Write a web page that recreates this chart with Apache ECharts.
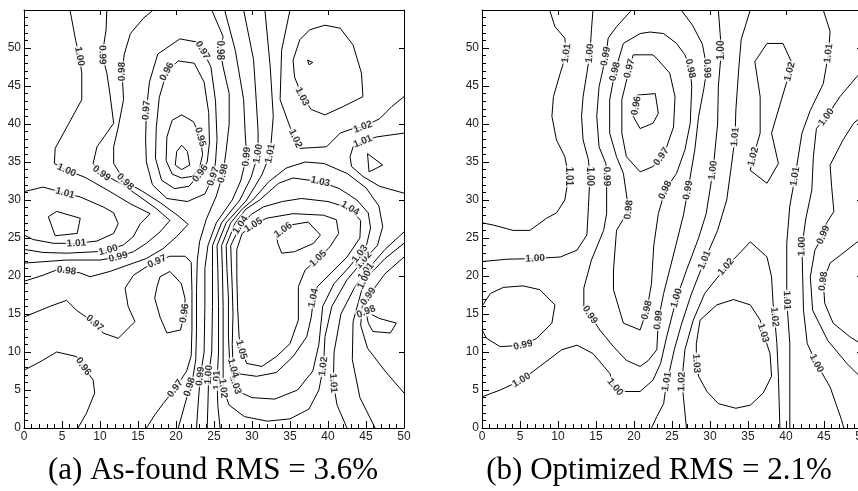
<!DOCTYPE html>
<html><head><meta charset="utf-8">
<script src="https://cdn.jsdelivr.net/npm/echarts/dist/echarts.min.js"></script>
<style>html,body{margin:0;padding:0;background:#fff}#c{width:858px;height:491px}</style>
</head><body><div id="c"></div>
<script>
// ---------- axis ticks ----------
const xTicks = [0,5,10,15,20,25,30,35,40,45,50];
const yTicks = [0,5,10,15,20,25,30,35,40,45,50];
const captions = ['(a) As-found RMS = 3.6%', '(b) Optimized RMS = 2.1%'];

// ---------- Panel A contour lines (x, y in data units) ----------
const a094 = [[20.75,37.2],[21.5,36.4],[21.8,34.6],[20.75,34.0],[19.9,34.6],[20.1,36.4]];
const a095 = [[20.75,41.2],[22.3,40.3],[23.2,38.3],[23.5,36],[23.1,34.2],[22.1,33.1],[20.75,32.9],[19.5,33.4],[18.7,35.2],[18.8,38.3],[19.5,40.5]];
const a096 = [[17.4,39.5],[17.8,43.5],[18.8,46.9],[20.3,48.3],[22.4,48],[23.7,45.5],[24.3,41.5],[24.4,37.5],[24.1,35],[23.2,33.5],[21.7,31.8],[19.8,31.5],[18.1,32.6],[17.3,35.5]];
const a097 = [[16.0,38],[16.1,41.8],[16.5,45.5],[17.6,49.2],[20.5,51.2],[22.7,50.8],[23.5,49.7],[24.6,47.5],[25.2,43],[25.4,38],[25.2,35],[24.9,33.1],[23.8,30.8],[21.5,29.8],[18.8,30.2],[16.9,32],[16.1,35]];
const a098L = [[17,55],[15.7,53.9],[14,51.9],[13.2,49.2],[12.9,46.9],[13.1,43.2],[12.4,39.6],[11.8,37],[11.8,34.8],[13.3,32.4],[15.5,31.2],[18,29.6],[20.3,27.9],[21.6,26.8],[20.1,25.2],[18.3,23.6],[16.1,22.3],[14.4,21.7],[11.3,20.6],[8.7,19.9],[7.4,20.4],[5.6,20.7],[4.3,20.8],[2.5,20.1],[0,19.3]];
const a098R = [[24.7,55],[26.2,51.5],[25.8,49.7],[26.2,47.5],[27,44],[27,40],[26.6,36.5],[26.2,33.5],[25.3,30.5],[24,27.5],[23.1,24.5],[22.8,22],[22.7,18],[22.7,13],[22.6,9],[22.2,6.5],[21.8,5.4],[21,2.5],[20.3,0]];
const a097LL = [[0,14.6],[3.4,16],[5.6,16.8],[6.9,15.5],[9.3,13.8],[10.4,12.5],[12.4,11.8],[14.6,14],[13.7,16],[13.3,18.4],[14.4,20.1],[16.1,21.2],[17.5,21.9],[19.2,22.6],[21.2,22.6],[22.0,21.8],[22.1,18],[22.1,13],[22.0,9.5],[21.4,7.5],[19.9,5.2],[18.3,3.2],[17.2,1.7],[16.1,0]];
const a096C = [[0,7.6],[2.1,8.7],[4.3,10.0],[6.9,9.4],[7.8,8.1],[9.1,6.3],[9.3,4.6],[8.2,1.9],[7.1,0]];
const a096M = [[17.5,18.6],[17.2,17.1],[17.9,14.6],[18.8,12.5],[20.6,12.9],[21.1,15.1],[21.2,17],[20.7,19],[19.2,20.6],[17.9,19.9]];
const a099L = [[10.9,55],[10.8,52.4],[10.3,49.1],[10.9,46.7],[11.3,44],[11.8,40.1],[9.6,37],[9.1,34.8],[10.2,33.5],[12.5,32.3],[15,30.6],[17.5,28.8],[19.2,27.3],[17.9,25.8],[16.1,24.3],[14.4,23.2],[12.4,22.5],[10,22.1],[5.6,22.1],[0,21.7]];
const a100L = [[6.05,55],[6.8,51],[7.3,48.9],[7.6,46.7],[7.6,43.2],[5.8,39.9],[4.1,36.8],[4.0,34.8],[5.6,33.9],[8.0,33.0],[11,31.3],[14,29.5],[16.6,28.2],[15.3,26.9],[14.4,25.2],[13.1,24.1],[11.1,23.4],[9.6,23.2],[5.6,23.0],[2.5,23.1],[0,23.5]];
const a101L = [[0,31.1],[2.5,31.7],[5.4,30.9],[7.4,30.4],[10.4,29.1],[11.8,28.3],[12.4,26.9],[11.8,25.6],[9.6,24.6],[6.9,24.3],[3.9,24.3],[1.2,24.8],[0,25.4]];
const a102P = [[3.2,27.8],[4.3,28.5],[7.4,27.6],[7.0,25.6],[4.1,25.3]];
const a099R = [[26.4,55],[27.8,49.7],[28.9,43.2],[29.1,38.8],[29.3,35.7],[28.5,32.5],[27.4,30],[25.3,27],[24.2,24],[23.8,21],[23.8,16],[23.7,10],[23.2,6.8],[22.9,3],[22.7,0]];
const a100R = [[28.9,55],[29.5,52],[30.2,48.5],[30.5,44],[30.8,39],[30.8,36.1],[29.9,33],[28.4,30],[26.0,27],[24.8,24],[24.8,21],[24.8,16],[24.7,10],[24.3,7],[24.2,3],[24.1,0]];
const a101T = [[31.7,55],[32.4,47.5],[32.8,41],[32.4,36.1],[31.3,33.3],[29.3,30],[26.6,27],[25.4,24],[25.5,21],[25.6,16],[25.6,10],[25.4,6.3],[25.5,3],[25.8,0]];
const a102U = [[35,55],[33.9,49.7],[33.7,43.2],[35,39.6],[35.7,38.1],[36.3,36.8],[38.1,36.9],[39.8,37.0],[41.6,38.8],[43.3,39.4],[44.6,39.6],[46.8,40.7],[48.4,42.3],[50,43.6]];
const a101R = [[50,38.8],[46.4,38.3],[44.6,37.7],[43.3,37.0],[42.9,35.7],[43.1,34.4],[44.6,33.1],[46.8,31.8],[50,30.9]];
const a100T = [[45.2,36.1],[47.2,34.6],[45.4,33.7]];
const a103I = [[35.4,48.4],[36.3,51.1],[37.6,52.4],[39.6,53],[41.6,52.6],[43.3,50.4],[44.4,46.7],[44.6,43.6],[42,42.3],[39.6,41.2],[37.8,41.9],[36.6,43.6],[35.6,46.2]];
const a104t = [[37.3,48.4],[38.0,48.1],[37.5,47.8]];
const a102M = [[26.1,21],[26.0,24],[27.2,27],[28.7,28.8],[30.1,30],[32.2,32.4],[34.5,34.2],[37,35],[39.5,34.8],[42.5,33.5],[45,31.6],[46.7,29.2],[47.2,26.5],[46.5,24],[44.7,22.1],[42.5,19.5],[40.5,16],[39.6,12],[39.4,8.1],[38.8,5],[37.5,2.5],[35,1.2],[32,0.9],[29,1.5],[27,3],[26.2,5.2],[26.2,10],[26.2,16]];
const a103M = [[26.7,21],[26.6,24],[27.8,27],[29.2,28.8],[31.0,30],[33.5,32.2],[35.4,32.9],[39,32.4],[41.5,31.5],[43.8,30],[45.3,28.3],[45.6,26.3],[45.1,24.2],[44.2,22.9],[42.8,21.2],[40.8,19],[39.3,16],[38.8,11],[38,7.5],[36,5],[33,3.8],[30,4],[28.2,4.8],[27.8,5.7],[27.1,8],[26.9,12],[26.9,17]];
const a104M = [[27.3,21],[27.2,24],[28.5,26.7],[29.9,28.1],[31.5,29.1],[34,29.8],[36.5,30.2],[40,29.8],[42.9,28.9],[44.3,27.3],[44.2,25],[42.5,22.5],[40.5,20.5],[38.6,18.6],[38.1,17.1],[37.8,14.6],[37.2,12],[35.4,9.4],[33.2,7.3],[30.6,6.8],[28.5,7.1],[27.5,7.9],[27.4,11],[27.5,15],[27.4,18.5]];
const a105M = [[28.0,20],[28.0,23.5],[28.7,25.6],[30.2,26.7],[31.9,27.6],[35.4,28.2],[39.4,28.0],[41.1,27.4],[41.4,25.6],[40.3,23.9],[38.7,22.3],[37,20.8],[36.1,18.6],[36.1,14.2],[35,11.1],[33.2,9.4],[31.3,8.1],[29.3,8.5],[28.6,10.3],[28.3,12],[28.1,16]];
const a106M = [[33.2,25.4],[34.1,26.05],[35,26.7],[37.4,27.1],[39,25.4],[38.1,24.3],[35.6,23.2],[33.9,23.0],[33.4,24.3]];
const a101B = [[42.5,0],[41.2,3],[40.7,5.9],[40.8,10],[41.7,15],[43.5,18.5],[45,20.6],[47.5,23.5],[50,25.8]];
const a100B = [[46.2,0],[44.2,4],[43.2,9],[43.3,14],[44.8,19.5],[47.5,22.3],[50,24.3]];
const a099B = [[50,4.6],[47.5,7.5],[45.2,10.5],[44.3,13.5],[44.5,16],[45.3,17.3],[47.5,20.3],[50,22.5]];
const a098P = [[45.0,15.3],[46.8,14.4],[49.0,13.8],[48.2,12.5],[45.9,12.7],[45.3,13.8]];

// ---------- Panel B contour lines ----------
const b101L = [[8.9,55],[9.6,52.8],[10.9,51.3],[11.1,49.3],[10.3,46.7],[9.4,43.6],[9.2,41],[9.8,37.9],[10.9,35.7],[11.4,33.1],[10.9,30.0],[9.8,28.3],[8.5,27.6],[6.3,26.0],[4.1,26.0],[1.5,26.7],[0,27.0]];
const b100L = [[14.6,55],[14.4,52.4],[14.2,49.3],[13.8,46.7],[13.3,43.6],[13.1,41],[13.3,37.9],[14,35.3],[14.2,33.1],[14,29],[13.8,25.4],[12.5,23.4],[10.3,22.5],[7,22.3],[3.2,22.2],[0,21.9]];
const b099W = [[0,16],[1.1,17.7],[2.8,18.5],[5.4,18.7],[7.6,18.2],[9.6,16.2],[9.2,13.8],[7.2,11.8],[5.4,10.9],[2.4,10.7],[0.6,11.8],[0,12.9]];
const b100B = [[0,4.1],[2.4,5],[5.2,6.3],[7.6,8.1],[10.5,10.3],[12.5,10.9],[14.6,9.8],[16.8,7.2],[17.5,5.4],[18.8,4.8],[20.8,4.8],[22.5,6.3],[23.5,8.5],[24.3,12],[25.6,17.1],[27,21],[28.5,25],[29.5,28.2],[30.4,33.9],[31,40],[31.1,45],[31.5,49.7],[31.1,55]];
const b099U = [[19.7,55],[17.7,52.8],[16.6,51.3],[16.3,48.9],[15.4,44.9],[15.1,41],[15.4,37],[16.3,34.8],[16.4,33.1],[16.4,28.2],[16,26],[14.4,22.1],[13.4,18.4],[13.4,16],[14.2,14.9],[15.5,12.9],[17.3,10.7],[19,8.9],[20.8,8.1],[21.9,8.9],[23,10.3],[23.2,14.2],[23.9,17.7],[25.5,24],[26.5,28],[27.1,31.3],[28,36.6],[28.5,41],[29.2,44.7],[29.6,47.3],[29,50.5],[27.7,53],[26.2,55]];
const b098M = [[17.5,46.9],[18.6,50.6],[20.8,51.9],[22.1,52.1],[23.9,51.9],[25.6,50.6],[26.7,49.1],[27.4,47.3],[27.6,44.9],[27.4,40.1],[26.7,36.6],[25.6,33.5],[24.1,31.3],[23.2,28.2],[22.6,24],[22.3,19],[21.7,15.5],[20.8,12.9],[18.6,13.8],[17.3,18.2],[17.3,20.8],[17.7,26],[19.3,28.7],[18.6,33.5],[17.7,35.7],[16.8,38.8],[16.8,43.2]];
const b097M = [[19.4,47.3],[19.9,49.1],[22.5,49.1],[23.2,48.4],[24.7,46.7],[25.4,43.6],[25.2,39.6],[24.3,37],[23.6,35.7],[22.5,34.4],[20.8,33.7],[19,35.7],[18.4,38.8],[18.4,43.2]];
const b096M = [[20.3,42.4],[20.4,43.8],[22.8,44.0],[23.2,41.4],[22.5,40.1],[20.8,39.4],[19.9,41.0]];
const b101R = [[35.3,55],[34.1,51.1],[33.8,47.5],[33.4,41.8],[33.3,38.3],[32.8,34.4],[32.2,30],[31,26],[29.3,22.1],[27.5,17.5],[26.2,13.5],[25.3,10.3],[24.7,7.6],[24.3,6.1],[23.9,3.2],[23,1.5],[22.3,0]];
const b102U = [[37.5,50.6],[39.6,50.6],[40.7,48.2],[40.5,46.9],[39.4,43.2],[38.1,38.8],[39,34.8],[37.5,32.2],[35.3,33.9],[35.7,35.7],[36.6,38.8],[36.6,43.6],[35.9,48.2]];
const b102A = [[26.9,0],[26.5,4.1],[26.3,6.1],[26.7,10.3],[27.8,14.2],[29.3,17.7],[32.1,21.2],[33.7,22.8],[35.3,24.5],[37.5,22.5],[38.1,19.9],[38.3,16.4],[38.5,14.6],[38.8,11.1],[39,6.8],[39.2,0]];
const b103M = [[28.7,14.2],[30.9,16.2],[33.1,16.9],[35.3,16.2],[36.6,14.2],[37,12.5],[37.9,9.8],[38.1,6.8],[37,4.6],[35.3,3],[33.4,2.6],[31.1,3.2],[29.6,4.8],[28.5,6.8],[28.2,8.5],[28.2,11.1]];
const b101E = [[44.9,55],[45.8,52.2],[45.6,49.3],[44.9,45.3],[43.2,41.8],[42.1,38.8],[41.2,33.1],[40.5,29.2],[40.1,24.3],[40.1,16.8],[40.5,11.1],[40.5,0]];
const b100E = [[50,47],[49.3,46.2],[47.1,43.6],[45.3,40.9],[44,39.4],[43.6,35.7],[43.4,31.3],[42.6,27.5],[42.1,23.9],[42.3,15.5],[42.8,11.1],[44,8.5],[45.8,5.4],[47.3,1.1],[47.6,0]];
const b099E = [[50,41],[48.9,40.1],[47.5,37.9],[45.8,34.6],[46,31.8],[46.3,28.5],[45.3,26.9],[44.9,25.4],[43.8,23.4],[43.2,19.9],[43.5,15.5],[45.5,11.5],[48,8.5],[50,6.5]];
const b098E = [[50,24.8],[49.4,24.5],[47.5,23],[45.8,21.7],[44.9,19.3],[45.1,16.4],[46.2,13.8],[48.4,12],[50,11]];

// [level, points, label point indices, closed]
const contoursA = [
  ['0.94', a094, [], true], ['0.95', a095, [2], true], ['0.96', a096, [2,9], true], ['0.97', a097, [1,6,11], true],
  ['0.98', a098L, [4,9,21], false], ['0.98', a098R, [2,7,16], false], ['0.97', a097LL, [4,12,20], false],
  ['0.96', a096C, [4], false], ['0.96', a096M, [5], true], ['0.99', a099L, [2,8,16], false], ['1.00', a100L, [2,8,16], false],
  ['1.01', a101L, [2,9], false], ['1.02', a102P, [], true], ['0.99', a099R, [4,12], false], ['1.00', a100R, [5,13], false],
  ['1.01', a101T, [3,11], false], ['1.02', a102U, [4,10], false], ['1.01', a101R, [2], false], ['1.00', a100T, [], true],
  ['1.03', a103I, [11], true], ['1.04', a104t, [], true], ['1.02', a102M, [14,18,25], true], ['1.03', a103M, [7,13,23], true],
  ['1.04', a104M, [2,8,14,21], true], ['1.05', a105M, [3,10,18], true], ['1.06', a106M, [1], true],
  ['1.01', a101B, [2,6], false], ['1.00', a100B, [4], false], ['0.99', a099B, [5], false], ['0.98', a098P, [0], true]
];
const contoursB = [
  ['1.01', b101L, [3,9], false], ['1.00', b100L, [2,8,13], false], ['0.99', b099W, [8], false], ['1.00', b100B, [2,8,14,18,21], false],
  ['0.99', b099U, [3,8,14,21,25,29], false], ['0.98', b098M, [0,7,12,16,22], true], ['0.97', b097M, [0,8], true], ['0.96', b096M, [0], true],
  ['1.01', b101R, [4,8,13], false], ['1.02', b102U, [3,9], true], ['1.02', b102A, [2,6,12], false], ['1.03', b103M, [5,14], true],
  ['1.01', b101E, [2,6,9], false], ['1.00', b100E, [3,8,11], false], ['0.99', b099E, [7], false], ['0.98', b098E, [4], false]
];

function buildSeries(list, ai){
  const out = [], labs = [];
  list.forEach(([lv, pts, li, ring]) => {
    out.push({type:'line', xAxisIndex:ai, yAxisIndex:ai, data: ring ? pts.concat([pts[0]]) : pts,
      showSymbol:false, symbol:'none', clip:true, silent:true, animation:false, z:2,
      lineStyle:{color:'#000', width:1}});
    const n = pts.length;
    li.forEach(i => {
      const a = ring ? pts[(i-1+n)%n] : pts[Math.max(i-1,0)];
      const b = ring ? pts[(i+1)%n] : pts[Math.min(i+1,n-1)];
      let ang = Math.atan2(b[1]-a[1], b[0]-a[0]) * 180 / Math.PI;
      if (ang > 90) ang -= 180; if (ang < -90) ang += 180;
      labs.push({value: pts[i], label:{rotate: ang, formatter: lv}});
    });
  });
  out.push({type:'scatter', xAxisIndex:ai, yAxisIndex:ai, data:labs, symbolSize:1, silent:true, animation:false, z:5,
    itemStyle:{color:'rgba(0,0,0,0)'},
    label:{show:true, position:'inside', color:'#000', fontSize:10, fontWeight:'bold', fontFamily:'Liberation Sans, Arial',
      backgroundColor:'#fff', padding:[0,1]}});
  return out;
}

const blk = {color:'#000', width:1};
function xAxes(g){
  return [
    {gridIndex:g, type:'value', min:0, max:50, interval:5, position:'bottom',
     axisLine:{onZero:false, lineStyle:blk}, axisTick:{inside:true, length:7, lineStyle:blk},
     minorTick:{show:true, splitNumber:5, length:4, lineStyle:blk}, splitLine:{show:false},
     axisLabel:{color:'#222', fontSize:12, margin:3, fontFamily:'Liberation Sans, Arial',
       formatter: v => xTicks.includes(v) ? String(v) : ''}},
    {gridIndex:g, type:'value', min:0, max:50, interval:10, position:'top',
     axisLine:{onZero:false, lineStyle:blk}, axisTick:{inside:true, length:5, lineStyle:blk},
     axisLabel:{show:false}, splitLine:{show:false}}
  ];
}
function yAxes(g){
  return [
    {gridIndex:g, type:'value', min:0, max:55, interval:5, position:'left',
     axisLine:{onZero:false, lineStyle:blk}, axisTick:{inside:true, length:7, lineStyle:blk},
     minorTick:{show:true, splitNumber:5, length:4, lineStyle:blk}, splitLine:{show:false},
     axisLabel:{color:'#222', fontSize:12, margin:3, fontFamily:'Liberation Sans, Arial',
       formatter: v => yTicks.includes(v) ? String(v) : ''}},
    {gridIndex:g, type:'value', min:0, max:55, interval:10, position:'right',
     axisLine:{onZero:false, lineStyle:blk}, axisTick:{inside:true, length:5, lineStyle:blk},
     axisLabel:{show:false}, splitLine:{show:false}}
  ];
}

const chart = echarts.init(document.getElementById('c'), null, {renderer:'canvas'});
const xa = xAxes(0).concat(xAxes(1));
const ya = yAxes(0).concat(yAxes(1));
chart.setOption({
  animation:false,
  backgroundColor:'#fff',
  grid:[{left:24, top:10, width:380, height:418, containLabel:false, outerBoundsMode:'none'},
        {left:482, top:10, width:380, height:418, containLabel:false, outerBoundsMode:'none'}],
  xAxis: xa, yAxis: ya,
  series: buildSeries(contoursA, 0).concat(buildSeries(contoursB, 2)),
  graphic:[
    {type:'text', style:{text:captions[0], x:213, y:471, textAlign:'center', textVerticalAlign:'middle',
      font:'31px "Liberation Serif", "Times New Roman", serif', fill:'#000'}},
    {type:'text', style:{text:captions[1], x:659, y:471, textAlign:'center', textVerticalAlign:'middle',
      font:'31px "Liberation Serif", "Times New Roman", serif', fill:'#000'}}
  ]
});
</script></body></html>
